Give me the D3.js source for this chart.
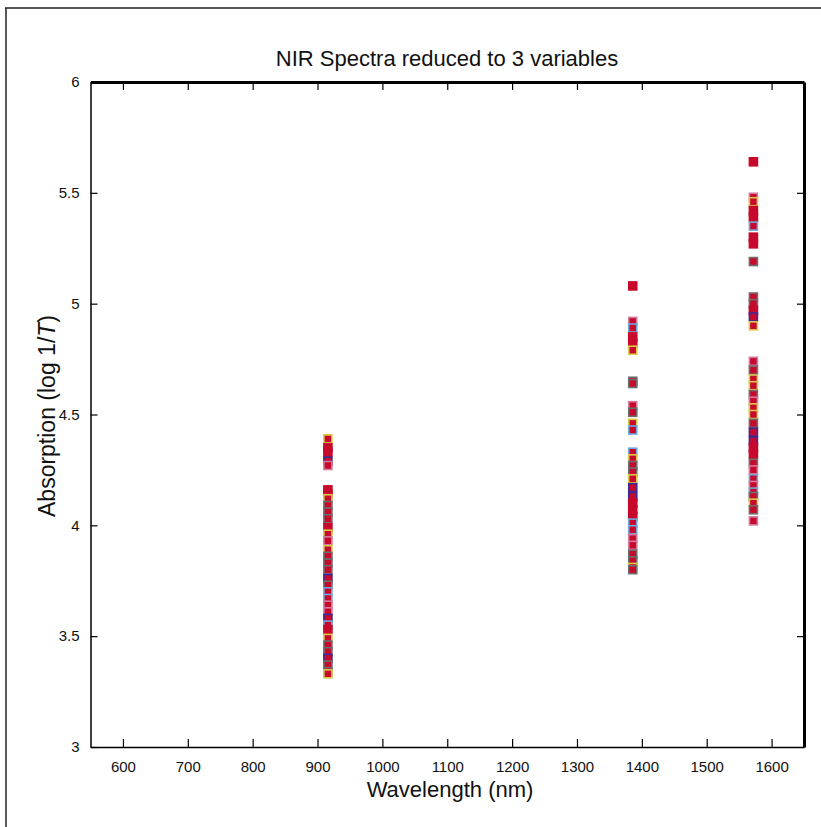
<!DOCTYPE html>
<html>
<head>
<meta charset="utf-8">
<script src="https://cdn.jsdelivr.net/npm/d3@7"></script>
<style>
  body { margin: 0; background: #fff; }
  text { font-family: "Liberation Sans", Arial, sans-serif; fill: #111; }
</style>
</head>
<body>
<svg id="chart" width="821" height="827"></svg>
<script>
// three wavelengths kept from the full spectra
var wavelengths = [916, 1386, 1572];

// absorption readings per wavelength, with the outline colour code of each square
var absorb916 = [4.39, 4.35, 4.33, 4.29, 4.27, 4.16, 4.14, 4.12, 4.09, 4.06, 4.03, 3.99, 3.96, 3.93, 3.89, 3.86, 3.83, 3.80, 3.76, 3.73, 3.70, 3.67, 3.64, 3.61, 3.58, 3.55, 3.53, 3.49, 3.46, 3.43, 3.40, 3.37, 3.34, 3.33];
var edge916   = ["y","r","r","p","k","r","r","y","g","g","g","r","y","k","y","g","g","g","p","g","b","b","k","k","p","b","r","y","g","g","p","g","g","y"];

var absorb1386 = [5.08, 4.92, 4.89, 4.85, 4.82, 4.79, 4.65, 4.64, 4.54, 4.51, 4.46, 4.43, 4.33, 4.30, 4.27, 4.24, 4.21, 4.17, 4.13, 4.10, 4.07, 4.04, 4.01, 3.98, 3.94, 3.91, 3.87, 3.84, 3.81, 3.80];
var edge1386   = ["r","k","b","r","r","y","g","g","k","g","y","b","b","y","g","g","y","p","p","r","r","r","b","b","k","k","g","g","y","g"];

var absorb1572 = [5.64, 5.48, 5.46, 5.42, 5.39, 5.35, 5.30, 5.27, 5.19, 5.03, 5.00, 4.97, 4.94, 4.90, 4.74, 4.70, 4.66, 4.63, 4.59, 4.56, 4.53, 4.50, 4.46, 4.42, 4.38, 4.35, 4.32, 4.28, 4.25, 4.21, 4.18, 4.15, 4.13, 4.10, 4.07, 4.02];
var edge1572   = ["r","k","y","r","r","b","r","r","g","g","g","r","p","y","k","g","y","y","g","k","y","y","g","p","p","r","r","g","k","b","k","b","g","y","g","k"];

var xTicks = [600, 700, 800, 900, 1000, 1100, 1200, 1300, 1400, 1500, 1600];
var yTicks = [3, 3.5, 4, 4.5, 5, 5.5, 6];

var edgeColors = {r: "#c70a2c", y: "#d9c84a", g: "#6e6e6e", p: "#3d2a98", b: "#6ea8dc", k: "#d27aa0"};
var fillColor = "#c70a2c";

var svg = d3.select("#chart");

// page frame
svg.append("line").attr("x1", 5).attr("x2", 821).attr("y1", 8).attr("y2", 8)
  .attr("stroke", "#222").attr("stroke-width", 1.5);
svg.append("line").attr("x1", 6).attr("x2", 6).attr("y1", 8).attr("y2", 827)
  .attr("stroke", "#222").attr("stroke-width", 1.5);

var plotLeft = 90.5, plotRight = 804, plotTop = 82, plotBottom = 747;

var x = d3.scaleLinear().domain([550, 1650]).range([plotLeft, plotRight]);
var y = d3.scaleLinear().domain([3, 6]).range([plotBottom, plotTop]);

// axes, ticks pointing inward
svg.append("g").attr("transform", "translate(0," + plotBottom + ")")
  .call(d3.axisBottom(x).tickValues(xTicks).tickFormat(d3.format("d")).tickSizeInner(-8).tickSizeOuter(0).tickPadding(14))
  .call(function(g) {
    g.select(".domain").attr("stroke-width", 1.5);
    g.selectAll("line").attr("stroke-width", 1.2);
    g.selectAll("text").attr("font-size", 15).attr("font-family", "Liberation Sans, Arial");
  });

svg.append("g").attr("transform", "translate(" + plotLeft + ",0)")
  .call(d3.axisLeft(y).tickValues(yTicks).tickFormat(d3.format("")).tickSizeInner(-7).tickSizeOuter(0).tickPadding(11))
  .call(function(g) {
    g.select(".domain").attr("stroke-width", 1.5);
    g.selectAll("line").attr("stroke-width", 1.2);
    g.selectAll("text").attr("font-size", 15).attr("font-family", "Liberation Sans, Arial");
  });

svg.append("g").attr("transform", "translate(0," + plotTop + ")")
  .call(d3.axisTop(x).tickValues(xTicks).tickSizeInner(-8).tickSizeOuter(0).tickFormat(""))
  .call(function(g) {
    g.select(".domain").attr("stroke-width", 3);
    g.selectAll("line").attr("stroke-width", 1.2);
  });

svg.append("g").attr("transform", "translate(" + plotRight + ",0)")
  .call(d3.axisRight(y).tickValues(yTicks.slice(1, -1)).tickSizeInner(-7).tickSizeOuter(0).tickFormat(""))
  .call(function(g) {
    g.select(".domain").attr("stroke-width", 3);
    g.selectAll("line").attr("stroke-width", 1.2);
  });

// points
var columns = [
  {wl: wavelengths[0], vals: absorb916, edges: edge916},
  {wl: wavelengths[1], vals: absorb1386, edges: edge1386},
  {wl: wavelengths[2], vals: absorb1572, edges: edge1572}
];
var points = [];
columns.forEach(function(c) {
  c.vals.forEach(function(v, i) { points.push({wl: c.wl, v: v, e: c.edges[i]}); });
});

var size = 8;
svg.append("g").selectAll("rect")
  .data(points)
  .enter().append("rect")
  .attr("x", function(d) { return x(d.wl) - size / 2; })
  .attr("y", function(d) { return y(d.v) - size / 2; })
  .attr("width", size)
  .attr("height", size)
  .attr("fill", fillColor)
  .attr("stroke", function(d) { return edgeColors[d.e]; })
  .attr("stroke-width", 1.6);

// titles
svg.append("text").attr("x", 447).attr("y", 66).attr("text-anchor", "middle")
  .attr("font-size", 22).text("NIR Spectra reduced to 3 variables");

svg.append("text").attr("x", 450).attr("y", 797).attr("text-anchor", "middle")
  .attr("font-size", 22).text("Wavelength (nm)");

var yl = svg.append("text").attr("transform", "translate(55,416) rotate(-90)")
  .attr("text-anchor", "middle").attr("font-size", 23);
yl.append("tspan").text("Absorption (log 1/");
yl.append("tspan").attr("font-style", "italic").text("T");
yl.append("tspan").text(")");
</script>
</body>
</html>
